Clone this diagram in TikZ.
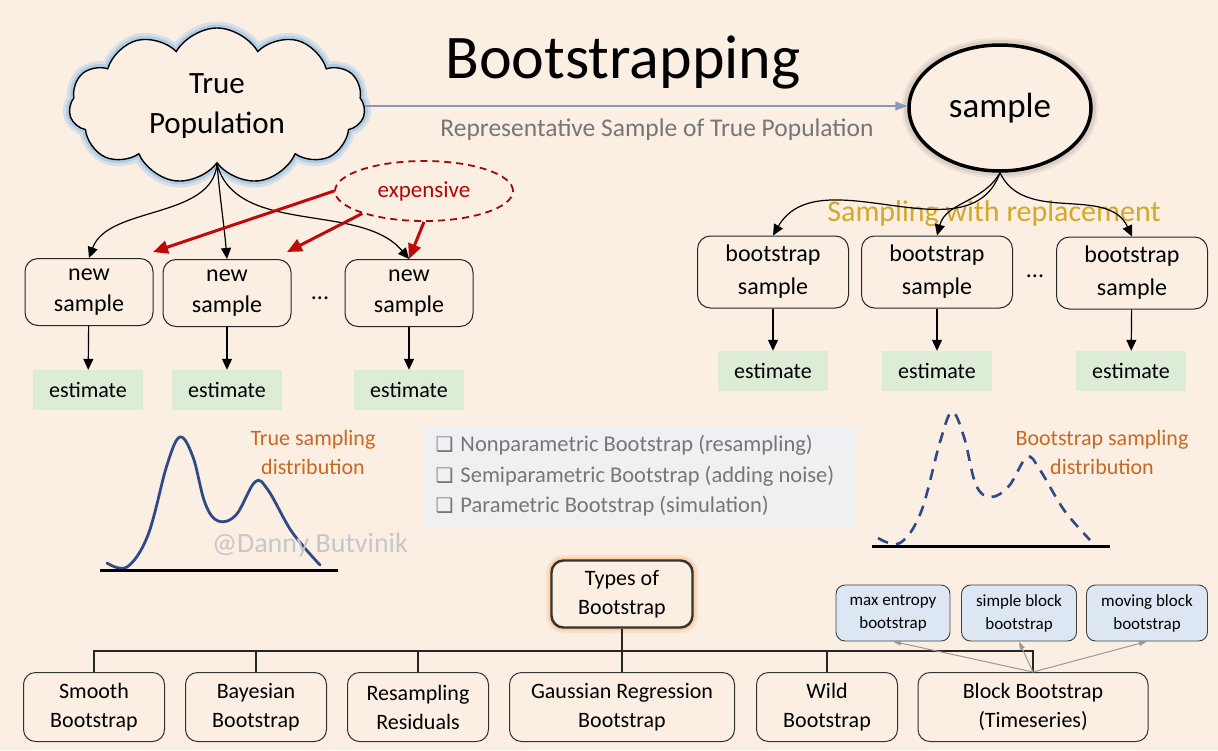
\documentclass[tikz,border=0pt]{standalone}
\usepackage{fontspec}
\setmainfont{Carlito}
\newfontfamily\djv{DejaVu Sans}
\usetikzlibrary{arrows.meta,shapes.geometric,shapes.symbols}
\definecolor{bg}{RGB}{251,238,227}
\definecolor{estg}{RGB}{221,236,215}
\definecolor{redc}{RGB}{192,10,10}
\definecolor{orangec}{RGB}{200,105,35}
\definecolor{goldc}{RGB}{212,168,40}
\definecolor{greyt}{RGB}{118,118,118}
\definecolor{distb}{RGB}{47,75,135}
\definecolor{lblue}{RGB}{220,231,243}
\definecolor{infobg}{RGB}{239,240,242}
\definecolor{linkc}{RGB}{135,155,185}
\definecolor{glowb}{RGB}{150,195,235}
\definecolor{glowo}{RGB}{250,170,100}
\newcommand{\fs}[2]{\fontsize{#1}{#2}\selectfont}
\tikzset{
  nbox/.style={draw=black!85, line width=1pt, rounded corners=13pt, fill=bg, align=center, font=\fs{24}{31}, minimum width=128, minimum height=67, inner sep=0pt},
  bbox/.style={nbox, minimum width=151, minimum height=72, font=\fs{24}{33}},
  est/.style={fill=estg, minimum width=110, minimum height=40, font=\fs{22}{26}, inner sep=0pt},
  arr/.style={-{Triangle[length=11pt,width=10pt]}, line width=1.2pt, black},
  redarr/.style={-{Triangle[length=15pt,width=13pt]}, line width=3pt, redc},
  tbox/.style={draw=black!80, line width=1pt, rounded corners=12pt, fill=bg, align=center, font=\fs{22}{29}, minimum width=141, minimum height=69, inner sep=0pt},
  mbox/.style={draw=black!75, line width=0.9pt, rounded corners=9pt, fill=lblue, align=center, font=\fs{17}{23}, minimum width=114, minimum height=56, inner sep=0pt},
  tree/.style={line width=1.8pt, black!85},
  garr/.style={-{Triangle[length=8pt,width=5pt]}, line width=1pt, black!40},
  dots/.style={font=\fs{24}{24}},
  otext/.style={text=orangec, align=center, font=\fs{22}{29}},
}
\begin{document}
\begin{tikzpicture}[x=1pt,y=1pt]
\fill[bg] (0,0) rectangle (1218,-750);
\useasboundingbox (0,0) rectangle (1218,-750);

% title
\node[font=\fs{62}{70}] (title) at (623,-62) {Bootstrapping};

% cloud
\node[cloud, cloud puffs=11, cloud puff arc=120, aspect=1.85, draw=black, line width=1.4pt, fill=bg,
      minimum width=296, minimum height=156, inner sep=0pt, align=center, font=\fs{31}{40},
      preaction={draw=glowb, line width=13pt, opacity=0.35},
      preaction={draw=glowb, line width=7pt, opacity=0.6}] (cloud) at (217,-106) {True\\Population};

% sample ellipse
\node[ellipse, draw=black, line width=3.5pt, fill=bg, minimum width=182, minimum height=126, font=\fs{35}{40},
      preaction={draw=black, line width=15pt, opacity=0.05},
      preaction={draw=black, line width=10pt, opacity=0.08}] (samp) at (1000,-108) {sample};

% link cloud -> sample
\draw[-{Triangle[length=12pt,width=9pt]}, line width=1.6pt, linkc] (cloud.east) -- (cloud.east -| samp.west);
\node[text=greyt, font=\fs{25.5}{30}] (rep) at (657,-130) {Representative Sample of True Population};

% expensive
\node[ellipse, draw=redc!85!black, dash pattern=on 7pt off 5pt, line width=1.8pt, minimum width=178, minimum height=60,
      text=redc!90!black, font=\fs{23}{26}] (exp) at (424,-191) {expensive};

% new samples
\node[nbox] (ns1) at (89,-292) {new\\sample};
\node[nbox] (ns2) at (227,-293) {new\\sample};
\node[nbox] (ns3) at (409,-293) {new\\sample};
\node[dots] (d1) at (320,-298) {...};
\node[est] (e1) at (88,-390) {estimate};
\node[est] (e2) at (227,-390) {estimate};
\node[est] (e3) at (409,-390) {estimate};
\draw[arr] (ns1) -- (e1);
\draw[arr] (ns2) -- (e2);
\draw[arr] (ns3) -- (e3);

% black arrows from cloud
\draw[arr] (cloud.south) to[out=-95, in=70, looseness=0.9] (ns1.north);
\draw[arr] (cloud.south) to[out=-85, in=95] (ns2.north);
\draw[arr] (cloud.south) to[out=-75, in=130, looseness=0.9] (ns3.north);

% red arrows
\coordinate (rt1) at (153,-252);
\coordinate (rt2) at (287,-252);
\draw[redarr] (exp.west) -- (rt1);
\draw[redarr] (exp.200) -- (rt2);
\draw[redarr] (exp.south) -- (ns3.north);

% bootstrap side
\node[font=\fs{30}{34}, text=goldc] (swr) at (994,-214) {Sampling with replacement};
\node[bbox] (bs1) at (773,-272) {bootstrap\\sample};
\node[bbox] (bs2) at (937,-272) {bootstrap\\sample};
\node[bbox] (bs3) at (1132,-273) {bootstrap\\sample};
\node[dots] (d2) at (1035,-276) {...};
\node[est] (be1) at (773,-371) {estimate};
\node[est] (be2) at (937,-371) {estimate};
\node[est] (be3) at (1131,-371) {estimate};
\draw[arr] (bs1) -- (be1);
\draw[arr] (bs2) -- (be2);
\draw[arr] (bs3) -- (be3);
\draw[arr] (samp.south) to[out=-110, in=60, looseness=1.0] (bs1.north);
\draw[arr] (samp.south) to[out=-120, in=75] (bs2.north);
\draw[arr] (samp.south) to[out=-65, in=115] (bs3.north);

% distributions
\draw[distb, line width=2.8pt, line cap=round] plot[smooth, tension=0.6] coordinates
  {(107,-563) (127,-567) (148,-535) (167,-465) (180,-437) (193,-457) (205,-503) (218,-521) (236,-515) (255,-482) (268,-490) (292,-532) (320,-565)};
\draw[line width=3pt, black] (100,-570) coordinate (lb1) -- (338,-570) coordinate (lb2);
\node[otext] (tsd) at (313,-452) {True sampling\\distribution};
\node[text=black!22, font=\fs{28}{30}] (wm) at (310,-545) {@Danny Butvinik};

\draw[distb, line width=2.6pt, dash pattern=on 11pt off 8pt] plot[smooth, tension=0.6] coordinates
  {(878,-538) (900,-543) (921,-512) (940,-442) (952,-412) (964,-437) (976,-485) (991,-497) (1009,-486) (1027,-457) (1040,-470) (1064,-510) (1090,-540)};
\draw[line width=3pt, black] (872,-546) coordinate (rb1) -- (1110,-546) coordinate (rb2);
\node[otext] (bsd) at (1102,-452) {Bootstrap sampling\\distribution};

% info box
\node[fill=infobg, minimum width=432, minimum height=102, inner sep=0pt] (info) at (640,-476) {};
\node[anchor=west, align=left, text=greyt, font=\fs{22.5}{30.5}] (infotxt) at (432,-476)
  {{\djv\fs{20}{30.5}❑}\hspace{7pt}Nonparametric Bootstrap (resampling)\\
   {\djv\fs{20}{30.5}❑}\hspace{7pt}Semiparametric Bootstrap (adding noise)\\
   {\djv\fs{20}{30.5}❑}\hspace{7pt}Parametric Bootstrap (simulation)};

% types tree
\node[tbox, line width=2.4pt, minimum width=141, minimum height=67,
      preaction={draw=glowo, line width=11pt, opacity=0.2},
      preaction={draw=glowo, line width=6pt, opacity=0.35}] (t0) at (622,-594) {Types of\\Bootstrap};
\node[tbox] (b1) at (94,-707) {Smooth\\Bootstrap};
\node[tbox] (b2) at (256,-707) {Bayesian\\Bootstrap};
\node[tbox] (b3) at (418,-707) {Resampling\\Residuals};
\node[tbox, minimum width=225] (b4) at (622,-707) {Gaussian Regression\\Bootstrap};
\node[tbox] (b5) at (827,-707) {Wild\\Bootstrap};
\node[tbox, minimum width=230] (b6) at (1033,-707) {Block Bootstrap\\(Timeseries)};
\coordinate (bus) at (1033,-651);
\draw[tree] (b1.north) |- (bus) -- (b6.north);
\draw[tree] (b2.north) -- (b2.north |- bus);
\draw[tree] (b3.north) -- (b3.north |- bus);
\draw[tree] (b5.north) -- (b5.north |- bus);
\draw[tree, line width=2.6pt] (t0.south) -- (b4.north);

\node[mbox] (m1) at (893,-613) {max entropy\\bootstrap};
\node[mbox, minimum width=115] (m2) at (1019,-613) {simple block\\bootstrap};
\node[mbox, minimum width=121] (m3) at (1147,-613) {moving block\\bootstrap};
\draw[garr] (b6.north) -- (m1.south);
\draw[garr] (b6.north) -- (m2.south);
\draw[garr] (b6.north) -- (m3.south);
\end{tikzpicture}
\end{document}
